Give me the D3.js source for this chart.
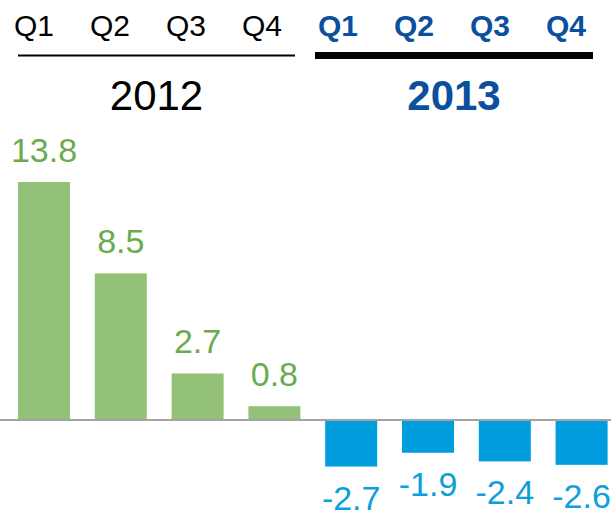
<!DOCTYPE html>
<html>
<head>
<meta charset="utf-8">
<script src="https://cdn.jsdelivr.net/npm/d3@7"></script>
<style>
  body { margin: 0; background: #fff; }
  svg { display: block; font-family: "Liberation Sans", Arial, sans-serif; }
</style>
</head>
<body>
<svg id="chart" width="611" height="514"></svg>
<script>
// data
var years = ["2012", "2013"];
var quarters = ["Q1", "Q2", "Q3", "Q4"];
var values2012 = [13.8, 8.5, 2.7, 0.8];
var values2013 = [-2.7, -1.9, -2.4, -2.6];

var data = [];
years.forEach(function(yr, i) {
    var vals = i === 0 ? values2012 : values2013;
    quarters.forEach(function(q, j) {
        data.push({ key: yr + q, year: yr, quarter: q, value: vals[j] });
    });
});

var svg = d3.select("#chart");
var width = 611;

// bar scale
var x = d3.scaleBand()
    .domain(data.map(d => d.key))
    .range([18, 607.6])
    .paddingInner(0.323)
    .paddingOuter(0);

// header labels sit a little left of the bars
var xHead = d3.scalePoint()
    .domain(data.map(d => d.key))
    .range([34, 566]);

var y = d3.scaleLinear()
    .domain([0, 13.8])
    .range([420, 182]);

var green = "#93c178", greenText = "#6bab4e";
var blue = "#009ddf", blueText = "#0d9fdc";
var navy = "#0b509d";

// bars
svg.selectAll("rect.bar")
    .data(data)
    .enter()
    .append("rect")
    .attr("class", "bar")
    .attr("x", d => x(d.key))
    .attr("width", x.bandwidth())
    .attr("y", d => y(Math.max(0, d.value)))
    .attr("height", d => Math.abs(y(d.value) - y(0)))
    .attr("fill", d => d.value >= 0 ? green : blue);

// zero line
svg.append("line")
    .attr("x1", 0)
    .attr("x2", width)
    .attr("y1", y(0))
    .attr("y2", y(0))
    .attr("stroke", "#a3a3a3")
    .attr("stroke-width", 2);

// value labels
svg.selectAll("text.val")
    .data(data)
    .enter()
    .append("text")
    .attr("class", "val")
    .attr("x", d => x(d.key) + x.bandwidth() / 2)
    .attr("y", d => d.value >= 0 ? y(d.value) - 20 : y(d.value) + 43)
    .attr("text-anchor", "middle")
    .attr("font-size", 34)
    .attr("fill", d => d.value >= 0 ? greenText : blueText)
    .text(d => d.value.toFixed(1));

// quarter headers
svg.selectAll("text.q")
    .data(data)
    .enter()
    .append("text")
    .attr("class", "q")
    .attr("x", d => xHead(d.key))
    .attr("y", 36)
    .attr("text-anchor", "middle")
    .attr("font-size", 30)
    .attr("font-weight", d => d.year === "2013" ? "bold" : "normal")
    .attr("fill", d => d.year === "2013" ? navy : "#000")
    .text(d => d.quarter);

// year brackets
var yearLines = [
    { year: "2012", x1: 18, x2: 295, w: 2, color: "#000", weight: "normal" },
    { year: "2013", x1: 315, x2: 593, w: 7, color: navy, weight: "bold" }
];

svg.selectAll("line.yr")
    .data(yearLines)
    .enter()
    .append("line")
    .attr("class", "yr")
    .attr("x1", d => d.x1)
    .attr("x2", d => d.x2)
    .attr("y1", 55.5)
    .attr("y2", 55.5)
    .attr("stroke", "#000")
    .attr("stroke-width", d => d.w);

svg.selectAll("text.yr")
    .data(yearLines)
    .enter()
    .append("text")
    .attr("class", "yr")
    .attr("x", d => (d.x1 + d.x2) / 2)
    .attr("y", 110)
    .attr("text-anchor", "middle")
    .attr("font-size", 42)
    .attr("font-weight", d => d.weight)
    .attr("fill", d => d.color)
    .text(d => d.year);
</script>
</body>
</html>
